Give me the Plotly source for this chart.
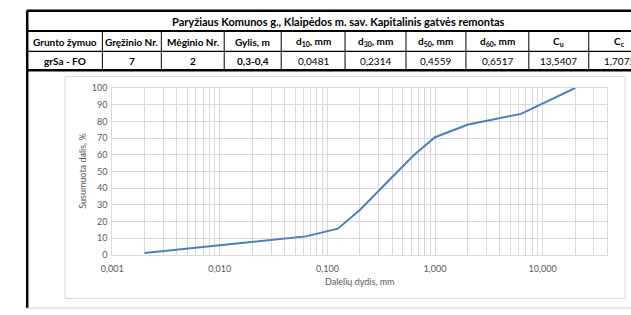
import plotly.graph_objects as go

W, H = 631, 315

# ---- data ----
particle_size_mm = [0.002, 0.063, 0.125, 0.2, 0.63, 1.0, 2.0, 6.3, 20.0]
passing_pct = [1.0, 11.0, 15.6, 26.8, 59.5, 70.5, 78.0, 84.5, 100.0]

x_tick_vals = [0.001, 0.01, 0.1, 1, 10]
x_tick_text = ["0,001", "0,010", "0,100", "1,000", "10,000"]

table_title = "Paryžiaus Komunos g., Klaipėdos m. sav. Kapitalinis gatvės remontas"
table_headers = ["Grunto žymuo", "Gręžinio Nr.", "Mėginio Nr.", "Gylis, m",
                 "d<sub>10</sub>, mm", "d<sub>30</sub>, mm", "d<sub>50</sub>, mm",
                 "d<sub>60</sub>, mm", "C<sub>u</sub>", "C<sub>c</sub>"]
table_values = ["grSa - FO", "7", "2", "0,3-0,4", "0,0481", "0,2314",
                "0,4559", "0,6517", "13,5407", "1,7075"]
bold_values = [True, True, True, True, False, False, False, False, False, False]

# ---- layout helpers (pixel -> paper) ----
def px(x):
    return x / W

def py(y):
    return 1 - y / H

col_edges = [16, 93, 153, 217, 275, 340, 402, 463, 527, 588, 650]

FONT = "Lato, Carlito, Calibri, sans-serif"
GRID = "#d9d9d9"
TXT = "#595959"

# minor gridline positions for log axis (2..9 in each decade)
minor_vals = []
for dec in [0.001, 0.01, 0.1, 1, 10]:
    for m in range(2, 10):
        v = dec * m
        if v <= 40:
            minor_vals.append(v)

fig = go.Figure()
fig.add_trace(go.Scatter(
    x=particle_size_mm, y=passing_pct, mode="lines",
    line=dict(color="#4a7fbf", width=2), hoverinfo="x+y", showlegend=False,
))

plot_l, plot_r, plot_t, plot_b = 103, 607, 85, 257.7

fig.update_layout(
    width=W, height=H, autosize=False,
    margin=dict(l=0, r=0, t=0, b=0),
    paper_bgcolor="white", plot_bgcolor="white",
    font=dict(family=FONT, size=9, color=TXT),
    xaxis=dict(
        type="log", domain=[px(plot_l), px(plot_r)],
        range=[-3, 1.60206],
        tickvals=x_tick_vals, ticktext=x_tick_text,
        showgrid=True, gridcolor=GRID, gridwidth=1,
        minor=dict(tickvals=minor_vals, showgrid=True, gridcolor=GRID, gridwidth=1, ticklen=0),
        showline=True, linecolor=GRID, linewidth=1, mirror=True,
        ticks="", ticklabelstandoff=5,
        tickfont=dict(size=9, color=TXT, family=FONT),
        zeroline=False,
    ),
    yaxis=dict(
        domain=[py(plot_b), py(plot_t)],
        range=[0, 100], dtick=10,
        showgrid=True, gridcolor=GRID, gridwidth=1,
        showline=True, linecolor=GRID, linewidth=1, mirror=True,
        ticks="", ticklabelstandoff=2,
        tickfont=dict(size=9, color=TXT, family=FONT),
        zeroline=False,
    ),
)

shapes = []
# chart frame
shapes.append(dict(type="rect", xref="paper", yref="paper",
                   x0=px(55), x1=px(625), y0=py(303), y1=py(73),
                   line=dict(color=GRID, width=1), layer="below"))
# table horizontal lines
for y, w in [(5, 2.5), (26, 2), (47, 1.2), (66.5, 2.5)]:
    shapes.append(dict(type="line", xref="paper", yref="paper",
                       x0=px(16), x1=px(660), y0=py(y), y1=py(y),
                       line=dict(color="black", width=w)))
# left outer border
shapes.append(dict(type="line", xref="paper", yref="paper",
                   x0=px(16.5), x1=px(16.5), y0=py(5), y1=py(313),
                   line=dict(color="black", width=2.5)))
# bottom light line
shapes.append(dict(type="line", xref="paper", yref="paper",
                   x0=px(16), x1=px(631), y0=py(313), y1=py(313),
                   line=dict(color="#cfcfcf", width=1)))
# column separators
for x in col_edges[1:-1]:
    shapes.append(dict(type="line", xref="paper", yref="paper",
                       x0=px(x), x1=px(x), y0=py(26), y1=py(66.5),
                       line=dict(color="black", width=1)))

annotations = []
annotations.append(dict(text="<b>" + table_title + "</b>", x=px(333), y=py(16.5),
                        xref="paper", yref="paper", showarrow=False,
                        xanchor="center", yanchor="middle",
                        font=dict(family=FONT, size=11, color="black")))
for i in range(len(table_headers)):
    cx = (col_edges[i] + col_edges[i + 1]) / 2
    annotations.append(dict(text="<b>" + table_headers[i] + "</b>", x=px(cx), y=py(37),
                            xref="paper", yref="paper", showarrow=False,
                            xanchor="center", yanchor="middle",
                            font=dict(family=FONT, size=10, color="black")))
    val = table_values[i]
    if bold_values[i]:
        val = "<b>" + val + "</b>"
    annotations.append(dict(text=val, x=px(cx), y=py(57),
                            xref="paper", yref="paper", showarrow=False,
                            xanchor="center", yanchor="middle",
                            font=dict(family=FONT, size=10, color="black")))

# axis titles
annotations.append(dict(text="Susumuota dalis, %", x=px(72), y=py(171),
                        xref="paper", yref="paper", showarrow=False, textangle=-90,
                        xanchor="center", yanchor="middle",
                        font=dict(family=FONT, size=9, color=TXT)))
annotations.append(dict(text="Dalelių dydis, mm", x=px(355), y=py(285),
                        xref="paper", yref="paper", showarrow=False,
                        xanchor="center", yanchor="middle",
                        font=dict(family=FONT, size=9, color=TXT)))

fig.update_layout(shapes=shapes, annotations=annotations)
fig.write_html("out.html", config={"displayModeBar": False},
               post_script="document.body.style.margin='0px';document.body.style.overflow='hidden';")
